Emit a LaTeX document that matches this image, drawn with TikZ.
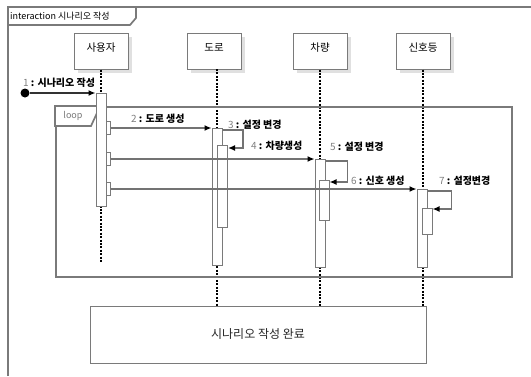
\documentclass[tikz,border=0pt]{standalone}
\usepackage{fontspec}
\setmainfont{Noto Sans CJK KR}
\usetikzlibrary{arrows.meta,shadows,calc}
\definecolor{fr}{HTML}{7A7A7A}
\definecolor{ln}{HTML}{737373}
\begin{document}
\begin{tikzpicture}[x=1pt,y=-1pt,
  frame/.style={draw=fr,line width=1.7pt},
  head/.style={draw=fr,fill=white,line width=1pt,minimum width=54pt,minimum height=36pt,text height=8pt,text depth=8pt,inner sep=0pt,font=\fontsize{10.5}{12}\selectfont,drop shadow={shadow xshift=4pt,shadow yshift=-4pt,fill=black!12,opacity=1}},
  lifeline/.style={line width=1.6pt,dash pattern=on 2pt off 1.4pt},
  act/.style={draw=fr,fill=white,line width=1pt,minimum width=10pt,inner sep=0pt,anchor=north},
  sact/.style={draw=fr,fill=white,line width=1pt,minimum width=4pt,minimum height=13pt,inner sep=0pt},
  msg/.style={draw=ln,line width=1.3pt,-{Latex[color=black,length=7pt,width=6pt]}},
  lab/.style={anchor=base west,inner sep=0pt,font=\fontsize{10}{12}\selectfont},
]
\useasboundingbox (0,0) rectangle (531,376);
% outer frame
\draw[frame] (8,376) -- (8,7) -- (531,7);
\draw[frame] (8,7) -- (136,7) -- (136,18) -- (130,25) -- (8,25);
\node[anchor=west,inner sep=0pt,font=\fontsize{9}{11}\selectfont] (title) at (10,16) {interaction 시나리오 작성};
% heads
\node[head] (u) at (101,51) {사용자};
\node[head] (r) at (214,51) {도로};
\node[head] (c) at (320,51) {차량};
\node[head] (s) at (423,51) {신호등};
% bottom box
\node[draw=fr,fill=white,line width=1pt,minimum width=336pt,minimum height=57pt,inner sep=0pt,font=\fontsize{12}{14}\selectfont,text=black!85] (done) at (258,334.5) {시나리오 작성 완료};
% activations (placed first as anchors for lifelines, redrawn below)
\coordinate (uend) at (101,262);
\coordinate (rtop) at (217,69);
% lifelines
\draw[lifeline] (u.south) -- (uend);
\draw[lifeline] (rtop) -- (rtop |- done.north);
\draw[lifeline] (c.south) -- (c.south |- done.north);
\draw[lifeline] (s.south) -- (s.south |- done.north);
% loop frame
\node[frame,minimum width=456pt,minimum height=170pt,inner sep=0pt,anchor=north west] (loop) at (55,106) {};
\draw[frame,fill=white] (loop.north west) -- ++(42,0) -- ++(0,7) -- ++(-6,13) -- ++(-36,0) -- cycle;
\node[inner sep=0pt,text=fr,font=\fontsize{9}{11}\selectfont] (looplab) at (73,116) {loop};
% activations
\node[act,minimum height=113pt] (ua) at (101,93) {};
\node[sact] (s1) at (108,128) {};
\node[sact] (s2) at (108,159) {};
\node[sact] (s3) at (108,189) {};
\node[act,minimum height=137pt] (da) at (rtop |- 0,128) {};
\node[act,minimum height=82pt] (dn) at (222.5,145) {};
\node[act,minimum height=108pt] (ca) at (c.south |- 0,159) {};
\node[act,minimum height=40pt] (cn) at (324,180) {};
\node[act,minimum height=78pt] (ga) at (422,189) {};
\node[act,minimum height=26pt] (gn) at (427,208) {};
% messages
\node[circle,fill=black,inner sep=0pt,minimum size=9pt] (f) at (25,93) {};
\draw[msg,draw=black!80] (f) -- (f -| ua.west);
\draw[msg] (s1.east) -- (s1.east -| da.west);
\draw[msg] (s2.east) -- (s2.east -| ca.west);
\draw[msg] (s3.east) -- (s3.east -| ga.west);
\draw[msg] ($(da.north east)+(0,2)$) -| ($(dn.north east)+(15,3)$) -- ($(dn.north east)+(0,3)$);
\draw[msg] ($(ca.north east)+(0,2)$) -| ($(cn.north east)+(18,2)$) -- ($(cn.north east)+(0,2)$);
\draw[msg] ($(ga.north east)+(0,2)$) -| ($(gn.north east)+(19,1)$) -- ($(gn.north east)+(0,1)$);
% labels
\node[lab] (l1) at (23,86) {\textcolor{gray}{1} \textbf{: 시나리오 작성}};
\node[lab] (l2) at (131,122) {\textcolor{gray}{2} \textbf{: 도로 생성}};
\node[lab] (l3) at (228,128) {\textcolor{gray}{3} \textbf{: 설정 변경}};
\node[lab] (l4) at (251,149) {\textcolor{gray}{4} \textbf{: 차량생성}};
\node[lab] (l5) at (330,150) {\textcolor{gray}{5} \textbf{: 설정 변경}};
\node[lab] (l6) at (351,184) {\textcolor{gray}{6} \textbf{: 신호 생성}};
\node[lab] (l7) at (439,184) {\textcolor{gray}{7} \textbf{: 설정변경}};
\end{tikzpicture}
\end{document}
